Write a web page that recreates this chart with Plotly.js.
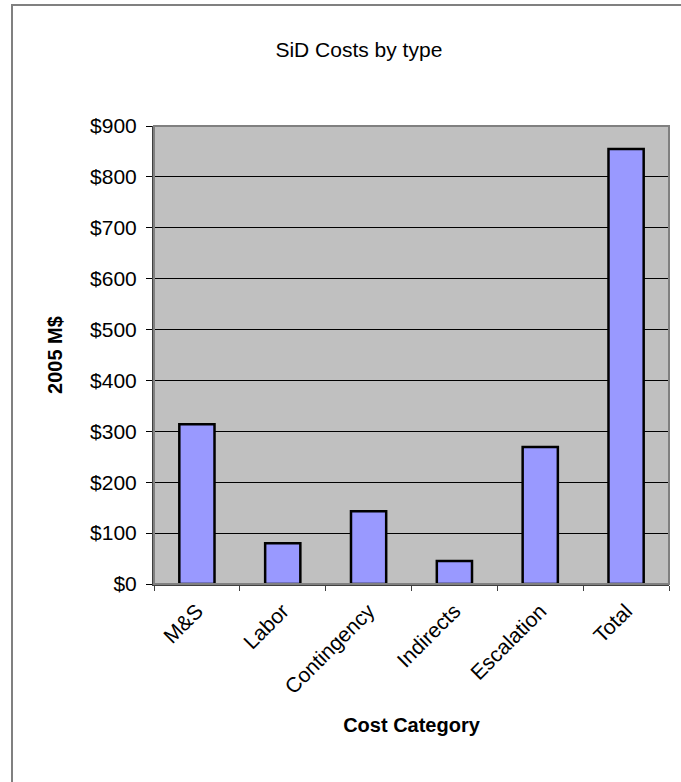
<!DOCTYPE html>
<html>
<head>
<meta charset="utf-8">
<script src="https://cdn.plot.ly/plotly-3.0.1.min.js"></script>
<style>
html,body{margin:0;padding:0;background:#fff;}
#chart{width:681px;height:782px;position:absolute;left:0;top:0;}
#frame{position:absolute;left:11px;top:4px;width:700px;height:800px;border-left:2px solid #808080;border-top:2px solid #808080;pointer-events:none;}
</style>
</head>
<body>
<div id="chart"></div>
<div id="frame"></div>
<script>
var categories = ["M&S", "Labor", "Contingency", "Indirects", "Escalation", "Total"];
var costs = [314, 80, 143, 45, 269, 855];
var tickValues = [0, 100, 200, 300, 400, 500, 600, 700, 800, 900];
var tickLabels = ["$0", "$100", "$200", "$300", "$400", "$500", "$600", "$700", "$800", "$900"];

var trace = {
  type: "bar",
  x: categories,
  y: costs,
  width: 0.41,
  marker: {color: "#9999FF", line: {color: "#000000", width: 2.5}},
  hoverinfo: "x+y"
};

var font = "Liberation Sans, Arial, sans-serif";
var layout = {
  width: 681,
  height: 782,
  margin: {l: 154, r: 12, t: 126, b: 198},
  paper_bgcolor: "#ffffff",
  plot_bgcolor: "#C0C0C0",
  showlegend: false,
  title: {text: "SiD Costs by type", font: {family: font, size: 21, color: "#000"}, x: 0.527, xanchor: "center", y: 0.937, yanchor: "middle"},
  xaxis: {
    type: "category",
    tickangle: -45,
    tickson: "boundaries",
    ticks: "outside",
    ticklen: 5,
    tickcolor: "#404040",
    ticklabelstandoff: 5,
    tickfont: {family: font, size: 21, color: "#000"},
    showline: true,
    linecolor: "#404040",
    linewidth: 1.5,
    showgrid: false,
    mirror: false,
    title: {text: "<b>Cost Category</b>", font: {family: font, size: 20, color: "#000"}, standoff: 21}
  },
  yaxis: {
    range: [0, 900],
    tickvals: tickValues,
    ticktext: tickLabels,
    ticks: "outside",
    ticklen: 6,
    tickcolor: "#000",
    ticklabelstandoff: 5,
    tickfont: {family: font, size: 21, color: "#000"},
    showline: true,
    linecolor: "#404040",
    linewidth: 2,
    gridcolor: "#000000",
    gridwidth: 1,
    zeroline: false,
    title: {text: "<b>2005 M$</b>", font: {family: font, size: 20, color: "#000"}, standoff: 22}
  },
  shapes: [
    {type: "rect", xref: "paper", yref: "paper", x0: 0, x1: 1, y0: 0, y1: 1, line: {color: "#808080", width: 2}, layer: "above"}
  ]
};

Plotly.newPlot("chart", [trace], layout, {displayModeBar: false, staticPlot: true});
</script>
</body>
</html>
